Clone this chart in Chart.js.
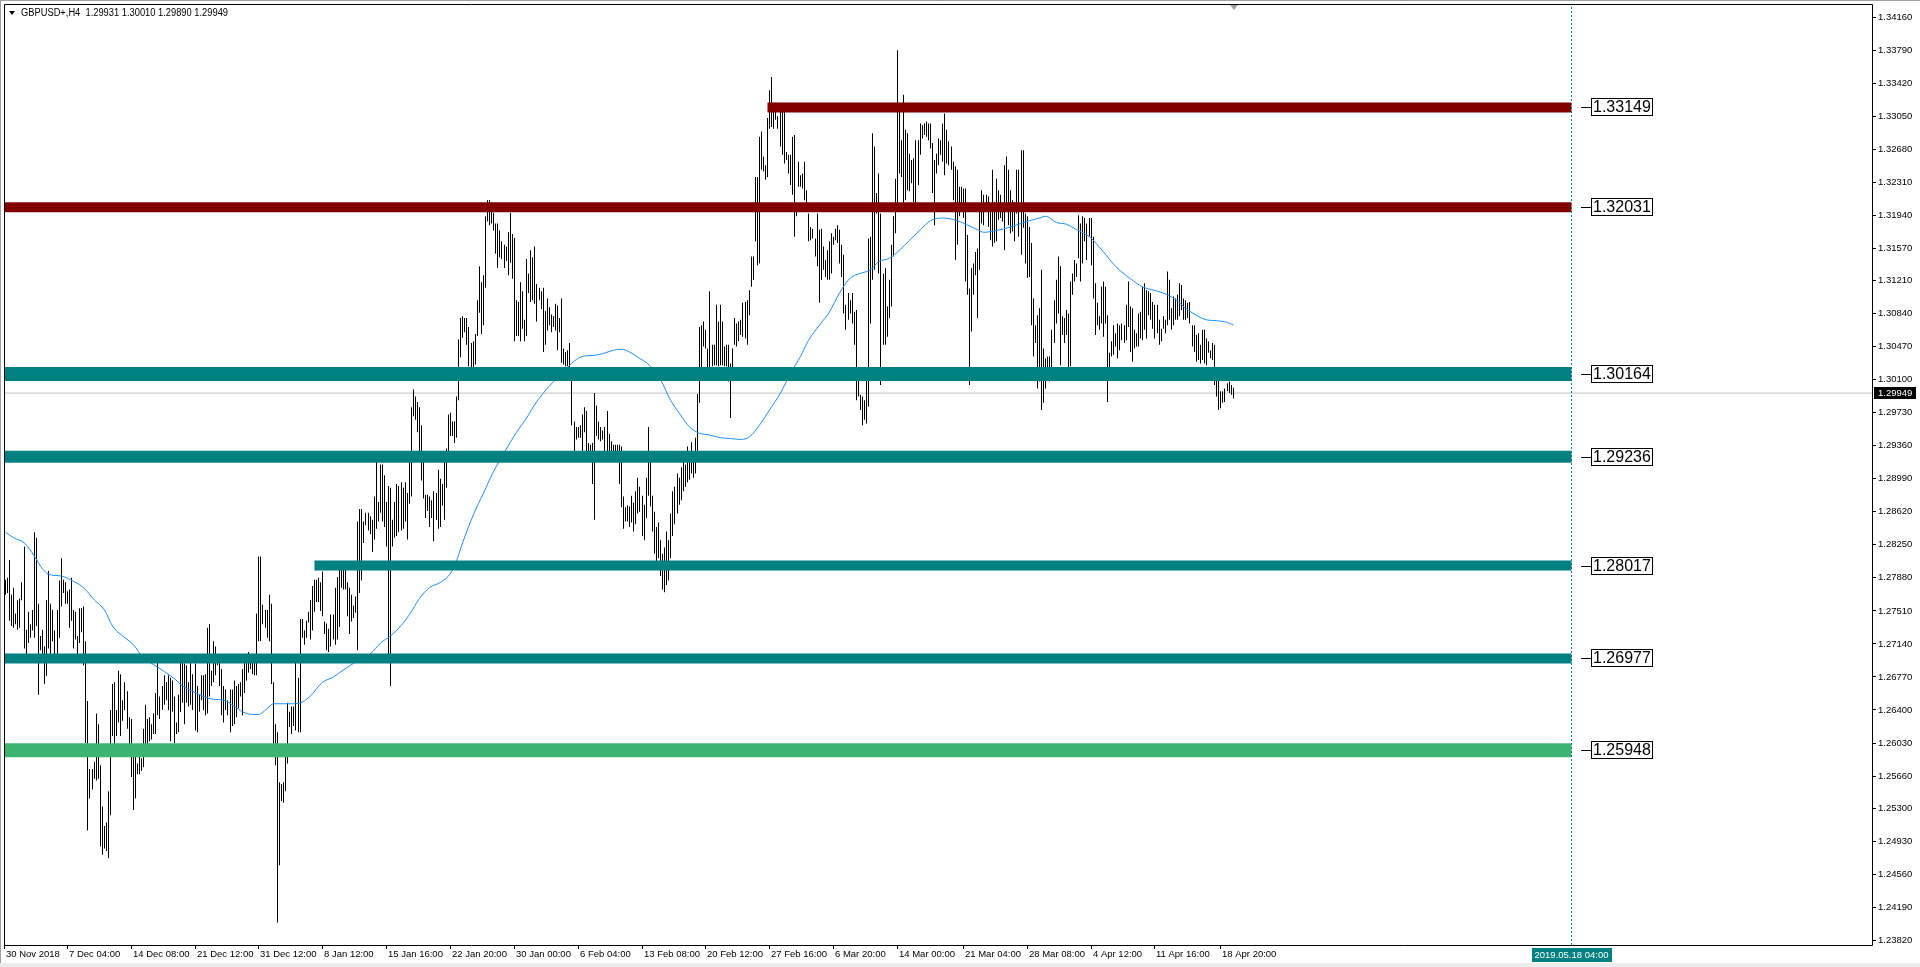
<!DOCTYPE html>
<html>
<head>
<meta charset="utf-8">
<script src="https://cdn.jsdelivr.net/npm/chart.js@4.4.1/dist/chart.umd.min.js"></script>
<style>
html,body{margin:0;padding:0;background:#fff;overflow:hidden}
canvas{display:block}
</style>
</head>
<body>
<canvas id="c" width="1920" height="967" style="width:1920px;height:967px"></canvas>
<script>
// ---------- DATA ----------
const symbolTitle = "GBPUSD+,H4  1.29931 1.30010 1.29890 1.29949";

// H4 bar highs (30 Nov 2018 .. 19 Apr 2019)
const barHigh = [
1.2786,1.2788,1.2808,1.2769,1.2777,1.2748,1.2763,1.2765,1.2783,1.2823,
1.2730,1.2750,1.2736,1.2752,1.2839,1.2833,1.2759,1.2723,1.2730,1.2711,
1.2763,1.2796,1.2759,1.2752,1.2729,1.2752,1.2785,1.2810,1.2786,1.2783,
1.2773,1.2775,1.2788,1.2752,1.2750,1.2723,1.2754,1.2754,1.2756,1.2717,
1.2650,1.2574,1.2574,1.2582,1.2636,1.2624,1.2578,1.2532,1.2510,1.2514,
1.2549,1.2640,1.2669,1.2671,1.2640,1.2684,1.2680,1.2651,1.2671,1.2661,
1.2632,1.2630,1.2590,1.2588,1.2580,1.2601,1.2586,1.2619,1.2646,1.2630,
1.2632,1.2624,1.2636,1.2659,1.2703,1.2655,1.2667,1.2679,1.2671,1.2679,
1.2676,1.2673,1.2655,1.2626,1.2657,1.2702,1.2703,1.2692,1.2690,1.2671,
1.2696,1.2680,1.2692,1.2667,1.2657,1.2679,1.2679,1.2680,1.2732,1.2736,
1.2684,1.2717,1.2711,1.2702,1.2702,1.2686,1.2667,1.2663,1.2651,1.2663,
1.2663,1.2673,1.2667,1.2669,1.2671,1.2686,1.2694,1.2703,1.2705,1.2700,
1.2702,1.2700,1.2748,1.2812,1.2812,1.2758,1.2752,1.2752,1.2769,1.2759,
1.2671,1.2624,1.2615,1.2559,1.2557,1.2559,1.2588,1.2648,1.2638,1.2644,
1.2644,1.2694,1.2676,1.2742,1.2742,1.2729,1.2740,1.2750,1.2763,1.2779,
1.2786,1.2786,1.2788,
1.2783,1.2795,1.2739,1.2737,1.2731,1.2747,1.2747,1.2777,1.2789,1.2801,
1.2803,1.2801,1.2799,1.2783,1.2777,1.2769,1.2757,1.2767,1.2851,1.2865,
1.2865,1.2851,1.2861,1.2861,1.2857,1.2853,1.2879,1.2929,1.2873,1.2915,
1.2915,1.2903,1.2873,1.2891,1.2889,1.2853,1.2873,1.2893,1.2891,1.2895,
1.2889,1.2895,1.2883,1.2923,1.2979,1.2999,1.2991,1.2985,1.2979,1.2959,
1.2927,1.2881,1.2881,1.2879,1.2875,1.2885,1.2883,1.2909,1.2899,1.2893,
1.2927,1.2933,1.2971,1.2973,1.2963,1.2963,1.2991,1.3055,1.3079,1.3081,
1.3079,1.3079,1.3069,1.3051,1.3053,1.3061,1.3099,1.3137,1.3119,1.3127,
1.3193,1.3211,1.3211,1.3209,1.3197,1.3185,1.3185,1.3177,1.3165,1.3161,
1.3159,1.3175,1.3197,1.3173,1.3169,1.3099,1.3097,1.3119,1.3109,1.3077,
1.3145,1.3129,1.3155,1.3147,1.3159,1.3117,1.3113,1.3109,1.3113,1.3087,
1.3101,1.3091,1.3083,1.3081,1.3095,1.3093,1.3079,1.3101,1.3045,1.3041,
1.3043,1.3051,1.3011,1.2963,1.2957,1.2957,1.2959,1.2971,1.2979,1.2975,
1.2939,1.2937,1.2939,1.2995,1.2981,1.2963,1.2957,1.2953,1.2957,1.2975,
1.2949,1.2941,1.2937,1.2937,1.2937,1.2937,1.2935,1.2879,1.2867,1.2869,
1.2868,1.2880,1.2872,1.2885,1.2900,1.2890,1.2880,1.2870,1.2900,1.2957,
1.2920,1.2880,1.2862,1.2845,1.2850,1.2830,1.2815,1.2822,1.2840,1.2830,
1.2860,1.2885,1.2890,1.2905,1.2900,1.2912,1.2925,1.2915,1.2935,1.2930,
1.2940,1.2925,1.2945,
1.2994,1.3069,1.3071,1.3075,1.3066,1.3045,1.3109,1.3049,1.3049,1.3094,
1.3075,1.3094,1.3075,1.3047,1.3049,1.3049,1.3028,1.3045,1.3079,1.3073,
1.3075,1.3077,1.3096,1.3097,1.3099,1.3110,1.3148,1.3148,1.3237,1.3237,
1.3282,1.3288,1.3260,1.3250,1.3303,1.3334,1.3349,1.3320,1.3320,1.3305,
1.3310,1.3318,1.3312,1.3265,1.3262,1.3262,1.3282,1.3284,1.3207,1.3254,
1.3239,1.3241,1.3254,1.3222,1.3196,1.3181,1.3179,1.3168,1.3196,1.3178,
1.3179,1.3159,1.3144,1.3155,1.3165,1.3174,1.3170,1.3179,1.3183,1.3178,
1.3161,1.3150,1.3094,1.3107,1.3099,1.3107,1.3086,1.3088,1.3015,1.2993,
1.2991,1.2987,1.3015,1.3168,1.3170,1.3286,1.3271,1.3219,1.3241,1.3196,
1.3129,1.3135,1.3092,1.3122,1.3161,1.3193,1.3235,1.3379,1.3310,1.3278,
1.3329,1.3290,1.3286,1.3263,1.3256,1.3258,1.3278,1.3278,1.3297,1.3295,
1.3297,1.3299,1.3297,1.3297,
1.3275,1.3256,1.3263,1.3280,1.3278,1.3297,1.3308,1.3290,1.3277,1.3271,
1.3254,1.3249,1.3245,1.3226,1.3226,1.3224,1.3224,1.3172,1.3112,1.3135,
1.3140,1.3153,1.3157,1.3200,1.3222,1.3217,1.3217,1.3215,1.3204,1.3245,
1.3209,1.3235,1.3222,1.3217,1.3202,1.3250,1.3260,1.3245,1.3222,1.3211,
1.3209,1.3245,1.3245,1.3267,1.3267,1.3196,1.3193,1.3181,1.3163,1.3101,
1.3071,1.3082,1.3090,1.3133,1.3045,1.3034,1.3036,1.3036,1.3066,1.3099,
1.3122,1.3148,1.3137,1.3081,1.3079,1.3088,1.3084,1.3120,1.3129,1.3144,
1.3140,1.3194,1.3185,1.3193,1.3191,1.3185,1.3191,1.3191,1.3170,1.3118,
1.3096,1.3081,1.3114,1.3120,1.3114,1.3082,1.3040,1.3053,1.3071,1.3062,
1.3073,1.3071,1.3073,1.3071,1.3094,1.3120,1.3092,1.3090,1.3066,1.3062,
1.3084,1.3086,1.3114,1.3118,1.3110,1.3109,1.3107,1.3097,1.3094,1.3094,
1.3077,1.3067,1.3081,1.3077,1.3131,1.3122,1.3090,1.3103,1.3101,1.3105,
1.3118,1.3116,1.3101,1.3099,1.3096,1.3097,1.3071,1.3071,1.3060,1.3062,
1.3049,1.3066,1.3066,1.3056,1.3053,1.3043,1.3051,1.3049,1.3021,1.3019,
1.2997,1.2997,1.3000,1.3006,1.3008,1.3004,1.3001
];

// H4 bar lows
const barLow = [
1.2769,1.2771,1.2740,1.2734,1.2732,1.2736,1.2730,1.2732,1.2763,1.2709,
1.2696,1.2715,1.2721,1.2729,1.2721,1.2734,1.2657,1.2707,1.2700,1.2669,
1.2678,1.2709,1.2703,1.2717,1.2700,1.2698,1.2721,1.2756,1.2771,1.2759,
1.2759,1.2732,1.2740,1.2709,1.2719,1.2702,1.2715,1.2727,1.2690,1.2603,
1.2505,1.2541,1.2551,1.2563,1.2561,1.2563,1.2487,1.2478,1.2485,1.2482,
1.2474,1.2522,1.2611,1.2590,1.2611,1.2626,1.2611,1.2628,1.2640,1.2619,
1.2599,1.2565,1.2528,1.2541,1.2568,1.2568,1.2572,1.2576,1.2590,1.2590,
1.2605,1.2607,1.2613,1.2613,1.2634,1.2630,1.2640,1.2646,1.2651,1.2640,
1.2605,1.2638,1.2603,1.2613,1.2615,1.2638,1.2648,1.2624,1.2648,1.2644,
1.2646,1.2640,1.2617,1.2615,1.2638,1.2651,1.2640,1.2634,1.2636,1.2655,
1.2667,1.2671,1.2679,1.2690,1.2667,1.2634,1.2626,1.2640,1.2634,1.2615,
1.2622,1.2624,1.2632,1.2642,1.2655,1.2634,1.2659,1.2673,1.2682,1.2686,
1.2680,1.2679,1.2679,1.2717,1.2717,1.2736,1.2732,1.2721,1.2717,1.2669,
1.2595,1.2578,1.2402,1.2466,1.2538,1.2536,1.2549,1.2580,1.2621,1.2613,
1.2622,1.2617,1.2615,1.2615,1.2721,1.2713,1.2721,1.2738,1.2719,1.2729,
1.2750,1.2761,1.2761,
1.2751,1.2745,1.2725,1.2707,1.2705,1.2711,1.2719,1.2713,1.2719,1.2733,
1.2777,1.2775,1.2775,1.2745,1.2725,1.2739,1.2743,1.2749,1.2707,1.2771,
1.2785,1.2827,1.2847,1.2841,1.2837,1.2817,1.2831,1.2843,1.2851,1.2861,
1.2851,1.2845,1.2823,1.2693,1.2667,1.2823,1.2833,1.2835,1.2839,1.2841,
1.2843,1.2851,1.2831,1.2871,1.2879,1.2969,1.2965,1.2951,1.2925,1.2897,
1.2877,1.2855,1.2863,1.2845,1.2855,1.2829,1.2853,1.2843,1.2845,1.2869,
1.2853,1.2889,1.2923,1.2947,1.2947,1.2939,1.2945,1.2987,1.3035,1.3057,
1.3063,1.3049,1.3025,1.3011,1.3011,1.3027,1.3059,1.3085,1.3061,1.3071,
1.3113,1.3187,1.3183,1.3185,1.3177,1.3151,1.3135,1.3147,1.3145,1.3135,
1.3143,1.3127,1.3141,1.3123,1.3053,1.3059,1.3059,1.3053,1.3067,1.3053,
1.3059,1.3107,1.3097,1.3099,1.3095,1.3075,1.3099,1.3089,1.3041,1.3049,
1.3065,1.3071,1.3063,1.3069,1.3065,1.3043,1.3063,1.3029,1.3027,1.3025,
1.3025,1.3009,1.2959,1.2923,1.2943,1.2945,1.2945,1.2923,1.2951,1.2927,
1.2927,1.2923,1.2893,1.2853,1.2947,1.2943,1.2941,1.2943,1.2919,1.2927,
1.2925,1.2927,1.2925,1.2923,1.2925,1.2893,1.2867,1.2843,1.2851,1.2851,
1.2845,1.2850,1.2840,1.2848,1.2860,1.2862,1.2835,1.2830,1.2855,1.2880,
1.2868,1.2840,1.2815,1.2800,1.2810,1.2790,1.2775,1.2772,1.2780,1.2785,
1.2810,1.2835,1.2848,1.2860,1.2870,1.2875,1.2885,1.2890,1.2895,1.2898,
1.2905,1.2900,1.2905,
1.2930,1.2984,1.3023,1.3047,1.3045,1.3010,1.3021,1.3025,1.3026,1.3026,
1.3025,1.3026,1.3026,1.3025,1.3025,1.3008,1.2967,1.3019,1.3049,1.3047,
1.3053,1.3060,1.3058,1.3056,1.3049,1.3082,1.3114,1.3122,1.3165,1.3138,
1.3140,1.3245,1.3243,1.3234,1.3237,1.3291,1.3293,1.3291,1.3301,1.3291,
1.3271,1.3262,1.3252,1.3256,1.3241,1.3228,1.3217,1.3170,1.3193,1.3226,
1.3226,1.3224,1.3211,1.3204,1.3165,1.3166,1.3168,1.3148,1.3137,1.3096,
1.3122,1.3133,1.3125,1.3122,1.3122,1.3129,1.3161,1.3166,1.3163,1.3140,
1.3125,1.3084,1.3066,1.3077,1.3084,1.3073,1.3049,1.2987,1.2991,1.2976,
1.2959,1.2965,1.2961,1.2980,1.3073,1.3122,1.3133,1.3196,1.3129,1.3004,
1.3049,1.3049,1.3058,1.3079,1.3092,1.3148,1.3174,1.3200,1.3241,1.3237,
1.3207,1.3211,1.3222,1.3221,1.3230,1.3209,1.3202,1.3228,1.3262,1.3280,
1.3284,1.3282,1.3278,1.3269,
1.3219,1.3183,1.3241,1.3250,1.3262,1.3254,1.3239,1.3252,1.3250,1.3245,
1.3211,1.3144,1.3161,1.3193,1.3200,1.3191,1.3120,1.3105,1.3004,1.3064,
1.3105,1.3127,1.3079,1.3133,1.3185,1.3183,1.3200,1.3181,1.3166,1.3159,
1.3163,1.3165,1.3189,1.3191,1.3187,1.3155,1.3200,1.3183,1.3174,1.3176,
1.3165,1.3196,1.3170,1.3150,1.3180,1.3140,1.3124,1.3125,1.3071,1.3036,
1.3051,1.3000,1.3008,1.2976,1.2984,1.3000,1.3010,1.3008,1.3013,1.3051,
1.3073,1.3084,1.3026,1.3060,1.3051,1.3060,1.3011,1.3025,1.3105,1.3120,
1.3125,1.3146,1.3120,1.3140,1.3165,1.3144,1.3170,1.3138,1.3101,1.3060,
1.3071,1.3066,1.3073,1.3058,1.3073,1.2985,1.3021,1.3036,1.3038,1.3047,
1.3034,1.3043,1.3054,1.3051,1.3054,1.3069,1.3041,1.3030,1.3045,1.3047,
1.3047,1.3056,1.3054,1.3066,1.3056,1.3082,1.3077,1.3067,1.3056,1.3062,
1.3049,1.3053,1.3067,1.3062,1.3071,1.3077,1.3066,1.3071,1.3077,1.3077,
1.3081,1.3088,1.3077,1.3077,1.3079,1.3073,1.3047,1.3041,1.3030,1.3032,
1.3028,1.3032,1.3028,1.3026,1.3040,1.3034,1.3032,1.3004,1.2991,1.2976,
1.2978,1.2984,1.2985,1.2997,1.2995,1.2993,1.2989
];

// moving average (read at bar indices)
const maIndex = [0,4,9,14,18,21,27,33,38,43,48,52,57,62,67,72,77,82,86,91,
96,101,106,111,115,120,123,127,130,135,140,144,148,154,159,164,171,177,182,187,
192,196,201,206,211,216,219,222,227,232,237,242,248,253,258,264,271,276,280,285,
290,295,299,303,308,313,318,323,327,332,337,342,347,352,357,361,366,371,376,381,
386,390,395,400,405,410,415,420,424,429,434,439,444,449,455,462,467,472,475,481,
488,492,497,502,505,510,515,520,526,533,539,546,552,559,564,569,573,578,583,588,
593,596];
const maValue = [1.2839,1.2833,1.2827,1.2812,1.2798,1.2792,1.2790,1.2784,1.2777,1.2763,
1.2752,1.2734,1.2723,1.2713,1.2698,1.2691,1.2683,1.2675,1.2667,1.2661,
1.2655,1.2652,1.2651,1.2644,1.2638,1.2635,1.2635,1.2642,1.2647,1.2647,
1.2647,1.2649,1.2656,1.2671,1.2677,1.2685,1.2695,1.2703,1.2715,1.2723,
1.2735,1.2747,1.2765,1.2777,1.2783,1.2793,1.2807,1.2827,1.2859,1.2883,
1.2907,1.2929,1.2951,1.2967,1.2985,1.3003,1.3019,1.3031,1.3036,1.3037,
1.3039,1.3043,1.3044,1.3041,1.3034,1.3025,1.3010,1.2987,1.2972,1.2957,
1.2950,1.2948,1.2945,1.2944,1.2943,1.2946,1.2959,1.2976,1.2995,1.3017,
1.3036,1.3054,1.3071,1.3086,1.3107,1.3124,1.3129,1.3133,1.3142,1.3146,
1.3155,1.3166,1.3178,1.3188,1.3191,1.3188,1.3183,1.3178,1.3175,1.3177,
1.3181,1.3184,1.3188,1.3191,1.3193,1.3186,1.3184,1.3178,1.3170,1.3153,
1.3137,1.3123,1.3114,1.3109,1.3105,1.3098,1.3090,1.3082,1.3077,1.3076,
1.3074,1.3071];

// time axis labels and their bar indices
const xTickIndex = [-0.5,30,61,92,123,154,185,216,247,278,309,340,371,402,433,465,496,527,558,590];
const xTickLabels = ["30 Nov 2018","7 Dec 04:00","14 Dec 08:00","21 Dec 12:00","31 Dec 12:00",
"8 Jan 12:00","15 Jan 16:00","22 Jan 20:00","30 Jan 00:00","6 Feb 04:00","13 Feb 08:00",
"20 Feb 12:00","27 Feb 16:00","6 Mar 20:00","14 Mar 00:00","21 Mar 04:00","28 Mar 08:00",
"4 Apr 12:00","11 Apr 16:00","18 Apr 20:00"];

// price axis labels
const yTickLabels = ["1.34160","1.33790","1.33420","1.33050","1.32680","1.32310","1.31940",
"1.31570","1.31210","1.30840","1.30470","1.30100","1.29730","1.29360","1.28990","1.28620",
"1.28250","1.27880","1.27510","1.27140","1.26770","1.26400","1.26030","1.25660","1.25300",
"1.24930","1.24560","1.24190","1.23820"];

// support / resistance zones
const zoneValues = [1.33149,1.32031,1.30164,1.29236,1.28017,1.26977,1.25948];
const zoneStartIndex = [370,-1,-1,-1,150,-1,-1];
const zoneEndIndex = 760;

const lastPrice = 1.29949;
const futureIndex = 760.4;
const futureLabel = "2019.05.18 04:00";

// ---------- STYLE ----------
const zoneColors = ['#800000','#800000','#008080','#008080','#008080','#008080','#3CB371'];
const zoneWidths = [10,10,14,12,10,10,14];
const FONT = '"Liberation Sans", Arial, sans-serif';
const xMin = -0.73, xMax = 906.1;
const yMin = 1.23768, yMax = 1.34307;

Chart.defaults.font.family = FONT;

// linear scale that snaps pixel positions to pixel centres (crisp 1px bars)
class SnapLinearScale extends Chart.LinearScale {
  getPixelForValue(value) { return Math.floor(super.getPixelForValue(value)) + 0.5; }
}
SnapLinearScale.id = 'snapLinear';
SnapLinearScale.defaults = Chart.LinearScale.defaults;
Chart.register(SnapLinearScale);

const datasets = [];
datasets.push({
  type:'line', data:[{x:xMin,y:lastPrice},{x:xMax,y:lastPrice}],
  borderColor:'#C0C0C0', borderWidth:1, pointRadius:0, order:6, clip:0
});
datasets.push({
  type:'bar',
  data: barHigh.map((h,i)=>({x:i, y:[barLow[i], h]})),
  backgroundColor:'#000', borderWidth:0, barThickness:1, inflateAmount:0, grouped:false, order:5
});
datasets.push({
  type:'line',
  data: maIndex.map((xi,k)=>({x:xi, y:maValue[k]})),
  borderColor:'#1E90FF', borderWidth:1, pointRadius:0, cubicInterpolationMode:'monotone', order:4
});
zoneValues.forEach((v,k)=>{
  datasets.push({
    type:'line',
    data:[{x:zoneStartIndex[k], y:v},{x:zoneEndIndex, y:v}],
    borderColor:zoneColors[k], borderWidth:zoneWidths[k], borderCapStyle:'butt',
    pointRadius:0, clip:0, order:2
  });
});
datasets.push({
  type:'line', data:[{x:futureIndex,y:yMin},{x:futureIndex,y:yMax}],
  borderColor:'#008080', borderWidth:1, borderDash:[2,2], pointRadius:0, order:1, clip:0
});

const overlay = {
  id:'overlay',
  beforeDraw(chart){
    const ctx = chart.ctx;
    ctx.save();
    ctx.fillStyle = '#fff'; ctx.fillRect(0,0,chart.width,chart.height);
    ctx.fillStyle = '#A0A0A0'; ctx.fillRect(0,0,chart.width,1); ctx.fillRect(0,0,1,chart.height);
    ctx.fillStyle = '#ECECEC'; ctx.fillRect(0,963,chart.width,4);
    ctx.restore();
  },
  afterDraw(chart){
    const {ctx, chartArea:a, scales:{x, y}} = chart;
    ctx.save();
    // frame
    ctx.strokeStyle = '#000'; ctx.lineWidth = 1;
    ctx.beginPath();
    ctx.moveTo(a.left+0.5, a.top+0.5); ctx.lineTo(a.right+0.5, a.top+0.5);
    ctx.lineTo(a.right+0.5, a.bottom+0.5); ctx.lineTo(a.left+0.5, a.bottom+0.5);
    ctx.closePath(); ctx.stroke();

    // zone labels
    const xe = Math.round(x.getPixelForValue(zoneEndIndex));
    ctx.font = '16px ' + FONT;
    ctx.textBaseline = 'middle'; ctx.textAlign = 'left';
    zoneValues.forEach(v=>{
      const yc = Math.round(y.getPixelForValue(v));
      const txt = v.toFixed(5);
      const w = Math.ceil(ctx.measureText(txt).width) + 3;
      const bx = xe + 19;
      ctx.strokeStyle = '#000';
      ctx.beginPath(); ctx.moveTo(xe+9, yc+0.5); ctx.lineTo(bx, yc+0.5); ctx.stroke();
      ctx.fillStyle = '#fff'; ctx.fillRect(bx, yc-9, w, 18);
      ctx.strokeRect(bx+0.5, yc-8.5, w, 17);
      ctx.fillStyle = '#000'; ctx.fillText(txt, bx+2, yc+1);
    });

    // current price label on axis
    const py = Math.round(y.getPixelForValue(lastPrice));
    ctx.fillStyle = '#000'; ctx.fillRect(a.right+2, py-6, 42, 12);
    ctx.fillStyle = '#fff'; ctx.font = '9.5px ' + FONT;
    ctx.fillText(lastPrice.toFixed(5), a.right+6, py+0.5);

    // future time label
    const fx = x.getPixelForValue(futureIndex);
    const tw = ctx.measureText(futureLabel).width;
    ctx.fillStyle = '#008080'; ctx.fillRect(Math.round(fx - tw/2 - 3), a.bottom+3, Math.round(tw+6), 14);
    ctx.fillStyle = '#fff'; ctx.textAlign = 'center';
    ctx.fillText(futureLabel, fx, a.bottom+10.5);

    // shift marker at last bar
    const lx = Math.round(x.getPixelForValue(barHigh.length-1));
    ctx.fillStyle = '#A0A0A0';
    ctx.beginPath(); ctx.moveTo(lx-4, a.top+1); ctx.lineTo(lx+4, a.top+1); ctx.lineTo(lx, a.top+6); ctx.closePath(); ctx.fill();

    // title
    ctx.fillStyle = '#000';
    ctx.beginPath(); ctx.moveTo(9,11); ctx.lineTo(15,11); ctx.lineTo(12,15); ctx.closePath(); ctx.fill();
    ctx.font = '10px ' + FONT; ctx.textAlign = 'left'; ctx.textBaseline = 'middle';
    ctx.fillText(symbolTitle, 21, 13.5, 207);
    ctx.restore();
  }
};

new Chart(document.getElementById('c'), {
  type:'bar',
  data:{datasets},
  options:{
    responsive:false, animation:false, devicePixelRatio:1,
    layout:{padding:{left:4, top:4, right:0, bottom:0}, autoPadding:false},
    plugins:{legend:{display:false}, tooltip:{enabled:false}},
    scales:{
      x:{
        type:'snapLinear', min:xMin, max:xMax, offset:false, position:'bottom',
        grid:{drawOnChartArea:false, drawTicks:true, tickLength:4, color:'#000', offset:false},
        border:{display:false},
        afterBuildTicks(axis){ axis.ticks = xTickIndex.map(v=>({value:v})); },
        afterFit(axis){ axis.height = 22; axis.paddingLeft = 0; axis.paddingRight = 0; },
        ticks:{
          autoSkip:false, maxRotation:0, minRotation:0, align:'start', labelOffset:1.5, padding:0,
          color:'#000', font:{size:9.5, family:FONT},
          callback:(v,i)=>xTickLabels[i]
        }
      },
      y:{
        type:'linear', min:yMin, max:yMax, position:'right',
        grid:{drawOnChartArea:false, drawTicks:true, tickLength:4, color:'#000'},
        border:{display:false},
        afterBuildTicks(axis){ axis.ticks = yTickLabels.map(s=>({value:parseFloat(s)})); },
        afterFit(axis){ axis.width = 48; axis.paddingTop = 0; axis.paddingBottom = 0; },
        ticks:{
          autoSkip:false, padding:2, color:'#000', font:{size:9.5, family:FONT},
          callback:(v,i)=>yTickLabels[i]
        }
      }
    }
  },
  plugins:[overlay]
});
</script>
</body>
</html>
